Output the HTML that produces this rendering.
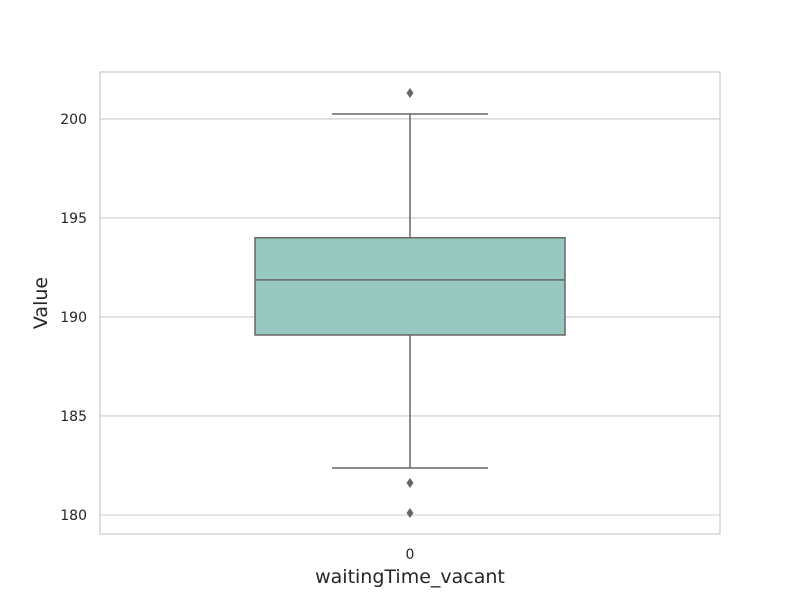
<!DOCTYPE html>
<html><head><meta charset="utf-8"><style>
body{margin:0;background:#fff;}
svg text{font-family:"DejaVu Sans","Liberation Sans",sans-serif;fill:#262626;}
</style></head><body>
<svg id="chart" width="800" height="600" viewBox="0 0 800 600">
<rect x="0" y="0" width="800" height="600" fill="#fff"/>
<g id="grid"></g>
<g id="marks"></g>
<rect x="100" y="72" width="620" height="462" fill="none" stroke="#cccccc" stroke-width="1.25"/>
<text x="410" y="559" font-size="14" text-anchor="middle">0</text>
<text x="410" y="583" font-size="19" text-anchor="middle">waitingTime_vacant</text>
<text x="47" y="303" font-size="19" text-anchor="middle" transform="rotate(-90 47 303)">Value</text>
</svg>
<script>
const categories = ["0"];
const whiskerLow = [182.37];
const q1 = [189.09];
const median = [191.87];
const q3 = [194.0];
const whiskerHigh = [200.25];
const outliers = [[201.31, 181.62, 180.1]];
const yTicks = [180, 185, 190, 195, 200];

const NS = "http://www.w3.org/2000/svg";
const yMin = 179.04, yMax = 202.37, plotTop = 72, plotBottom = 534, plotLeft = 100, plotRight = 720;
function yScale(v){ return plotBottom - (v - yMin) / (yMax - yMin) * (plotBottom - plotTop); }
function xScale(i){ return plotLeft + (i + 0.5) * (plotRight - plotLeft) / categories.length; }
function mk(tag, attrs, parent){ const e = document.createElementNS(NS, tag); for (const k in attrs) e.setAttribute(k, attrs[k]); parent.appendChild(e); return e; }
const grid = document.getElementById("grid"), marks = document.getElementById("marks");
yTicks.forEach(t => {
  const l = mk("line", {x1:plotLeft, x2:plotRight, y1:yScale(t), y2:yScale(t), stroke:"#cccccc", "stroke-width":1.1}, grid);
  
  
  const tx = mk("text", {x:87, y:yScale(t)+5, "font-size":14, "text-anchor":"end"}, grid);
  tx.textContent = t;
  
  
});
const bw = 310, cw = 156, col = "#666666";
categories.forEach((c, i) => {
  const cx = xScale(i);
  const w1 = mk("line", {x1:cx, x2:cx, y1:yScale(q3[i]), y2:yScale(whiskerHigh[i]), stroke:col, "stroke-width":1.5}, marks);
  
  
  const w2 = mk("line", {x1:cx, x2:cx, y1:yScale(q1[i]), y2:yScale(whiskerLow[i]), stroke:col, "stroke-width":1.5}, marks);
  
  
  const c1 = mk("line", {x1:cx-cw/2, x2:cx+cw/2, y1:yScale(whiskerHigh[i]), y2:yScale(whiskerHigh[i]), stroke:col, "stroke-width":1.5}, marks);
  
  
  const c2 = mk("line", {x1:cx-cw/2, x2:cx+cw/2, y1:yScale(whiskerLow[i]), y2:yScale(whiskerLow[i]), stroke:col, "stroke-width":1.5}, marks);
  
  
  const b = mk("rect", {x:cx-bw/2, y:yScale(q3[i]), width:bw, height:yScale(q1[i])-yScale(q3[i]), fill:"#97c9c1", stroke:col, "stroke-width":1.5}, marks);
  
  
  const m = mk("line", {x1:cx-bw/2, x2:cx+bw/2, y1:yScale(median[i]), y2:yScale(median[i]), stroke:col, "stroke-width":1.5}, marks);
  
  
  outliers[i].forEach(v => {
    const yy = yScale(v);
    const p = mk("polygon", {points:`${cx},${yy-5} ${cx+3.5},${yy} ${cx},${yy+5} ${cx-3.5},${yy}`, fill:col}, marks);
    
    
  });
});
</script>
</body></html>
